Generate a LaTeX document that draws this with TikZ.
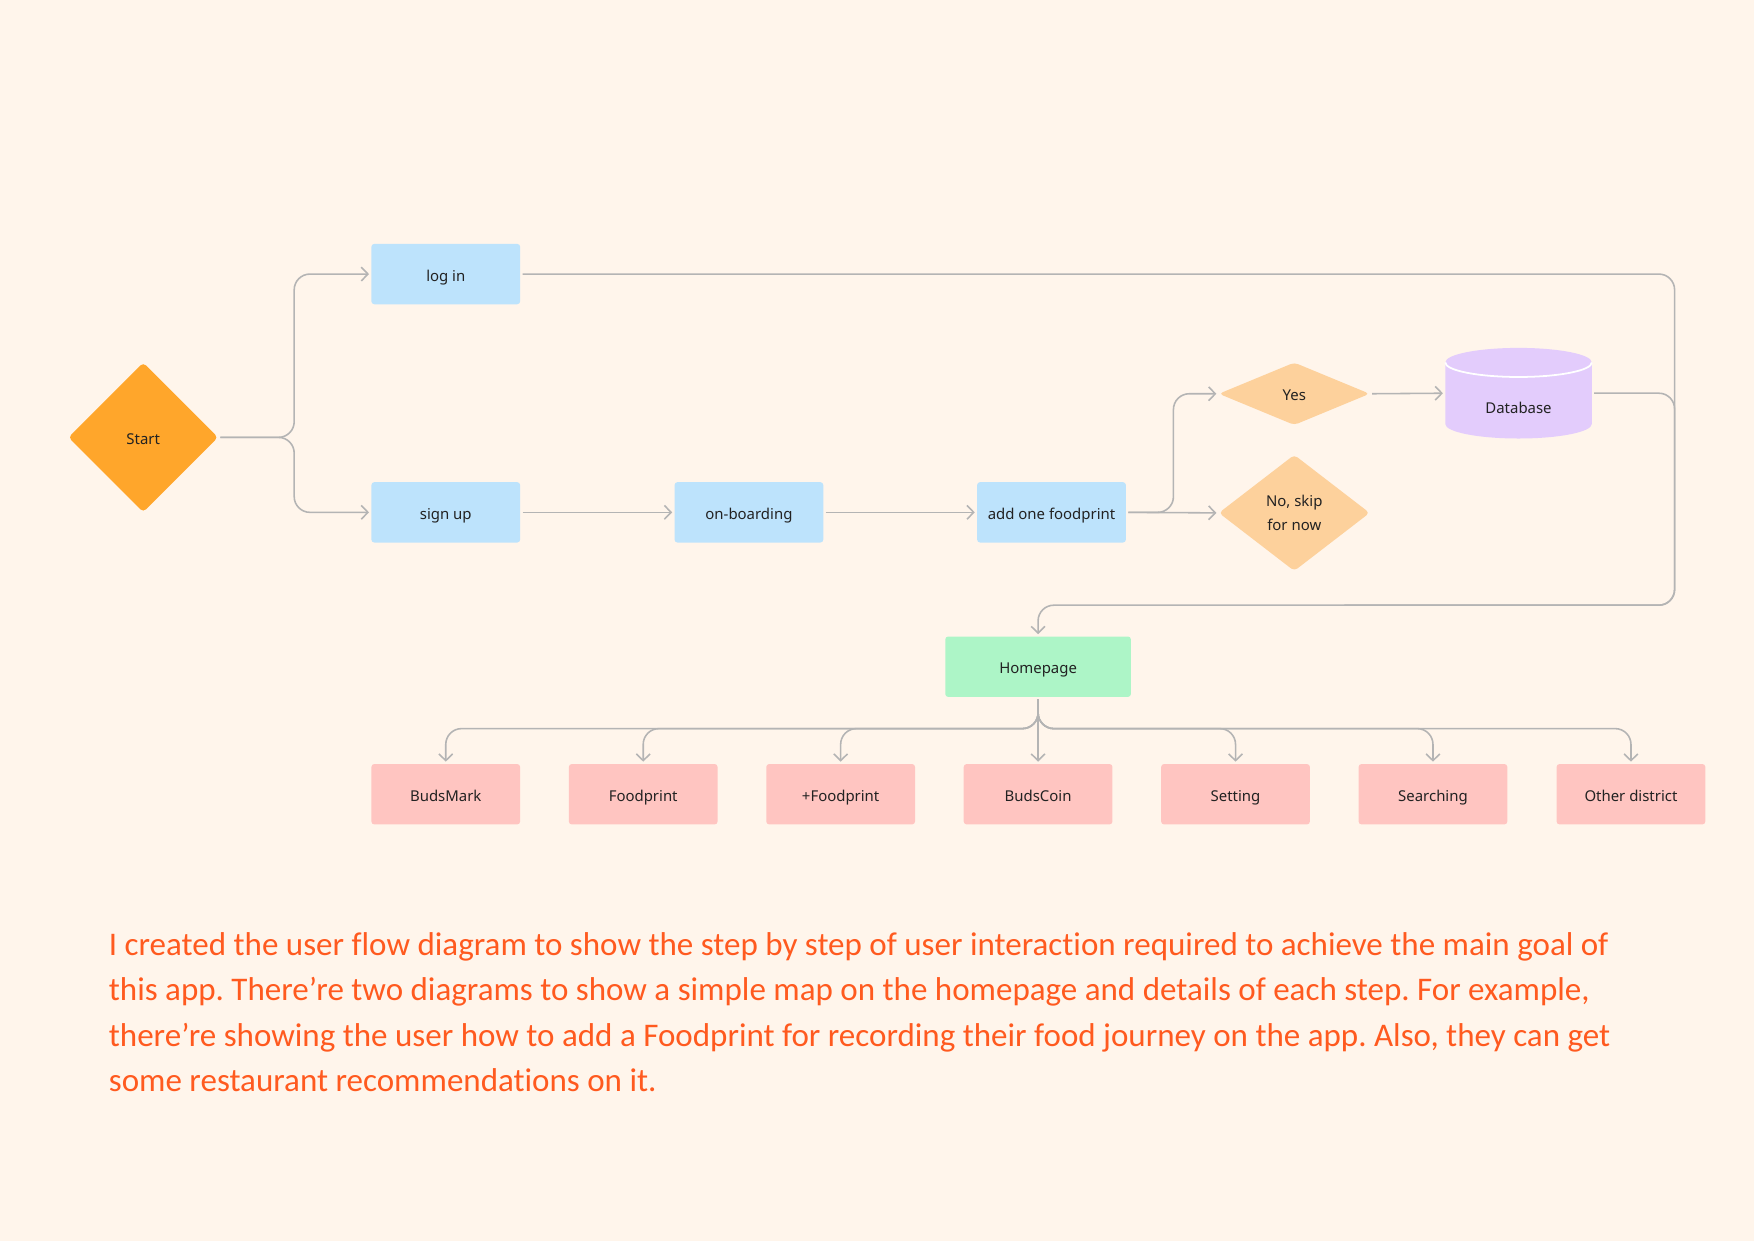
\documentclass[tikz,border=0pt]{standalone}
\usepackage{fontspec}
\setmainfont{Carlito}[Ligatures={NoCommon}]
\newfontfamily\boxfont{Noto Sans}
\usepackage{tikz}
\usetikzlibrary{positioning}
\usetikzlibrary{shapes.geometric}
\usetikzlibrary{arrows.meta}

\definecolor{bgcream}{HTML}{FFF5EB}
\definecolor{boxblue}{HTML}{BDE3FC}
\definecolor{startorange}{HTML}{FFA62B}
\definecolor{choiceorange}{HTML}{FDD19C}
\definecolor{dblilac}{HTML}{E3CCFC}
\definecolor{homegreen}{HTML}{ADF5C7}
\definecolor{tabpink}{HTML}{FFC5C1}
\definecolor{linegray}{HTML}{B4B4B4}
\definecolor{textdark}{HTML}{222222}
\definecolor{noteorange}{HTML}{FF5A1F}

\begin{document}
\frenchspacing
\begin{tikzpicture}[x=0.02cm,y=-0.02cm,
    every node/.style={font=\boxfont\fontsize{7.6}{11.9}\selectfont, text=textdark, inner sep=0pt},
    flowbox/.style={rectangle, rounded corners=1.5pt, fill=boxblue, minimum width=2.66cm, minimum height=1.08cm,
      text height=0.95em, text depth=0.24em},
    tabbox/.style={flowbox, fill=tabpink},
    choice/.style={diamond, rounded corners=2pt, fill=choiceorange, align=center},
    flow/.style={draw=linegray, line width=0.8pt, rounded corners=8pt, shorten <=1pt, shorten >=1pt, -{Straight Barb[length=3.4pt,width=7pt]}},
    flowline/.style={flow, -}]
  \useasboundingbox (0,0) rectangle (1568,1109);
  \fill[bgcream] (0,0) rectangle (1568,1109);

  % start and the first row
  \node[diamond, rounded corners=2pt, fill=startorange, minimum width=2.68cm, minimum height=2.68cm,
    text height=0.95em, text depth=0.24em] (start) at (128,391) {Start};
  \node[flowbox] (login) at (398.5,245) {log in};
  \node[flowbox] (signup) at (398.5,458) {sign up};
  \node[flowbox] (onboard) at (669.5,458) {on-boarding};
  \node[flowbox] (addfp) at (940,458) {add one foodprint};
  \node[choice, aspect=2.4, minimum width=2.7cm, minimum height=1.12cm, text height=0.95em, text depth=0.24em] (yes) at (1157,352) {Yes};
  \node[choice, aspect=1.3, minimum width=2.7cm, minimum height=2.08cm] (skip) at (1157,458.5) {No, skip\\for now};

  % database cylinder
  \fill[dblilac] (1292,324) -- (1292,379) arc[start angle=180, end angle=0, x radius=65.5, y radius=13]
    -- (1423,324) arc[start angle=0, end angle=-180, x radius=65.5, y radius=13] -- cycle;
  \draw[white, line width=0.9pt] (1292,324) arc[start angle=180, end angle=0, x radius=65.5, y radius=13];
  \node[minimum width=2.62cm, minimum height=1.62cm] (db) at (1357.5,351.5) {\raisebox{-0.36cm}[0pt][0pt]{Database}};

  \node[flowbox, fill=homegreen, minimum width=3.32cm] (home) at (928,596) {Homepage};

  \draw[flow] (start.east) -- (263,391) |- (login.west);
  \draw[flow] (start.east) -- (263,391) |- (signup.west);
  \draw[flow] (signup) -- (onboard);
  \draw[flow] (onboard) -- (addfp);
  \draw[flow] (addfp.east) -- (1049,458) |- (yes.west);
  \draw[flow] (addfp.east) -- (skip.west);
  \draw[flow] (yes.east) -- (db.west);
  \draw[flow] (login.east) -| (1497,541) -| (home.north);
  \draw[flowline] (db.east) -| (1497,541) -- (1200,541);

  % homepage tabs
  \foreach \name/\txt/\x in {budsmark/BudsMark/398.5, foodprint/Foodprint/575, addfoodprint/+Foodprint/751.5,
      budscoin/BudsCoin/928, setting/Setting/1104.5, searching/Searching/1281, other/Other district/1458}{
    \node[tabbox] (\name) at (\x,710) {\txt};
    \draw[flow] (home.south) -- ++(0,28) -| (\name.north);
  }

  \node[anchor=north west, align=left, text=noteorange, font=\fontsize{16.8}{23.2}\selectfont] (note) at (97,833)
    {I created the user flow diagram to show the step by step of user interaction required to achieve the main goal of\\
     this app. There’re two diagrams to show a simple map on the homepage and details of each step. For example,\\
     there’re showing the user how to add a Foodprint for recording their food journey on the app. Also, they can get\\
     some restaurant recommendations on it.};
\end{tikzpicture}
\end{document}
